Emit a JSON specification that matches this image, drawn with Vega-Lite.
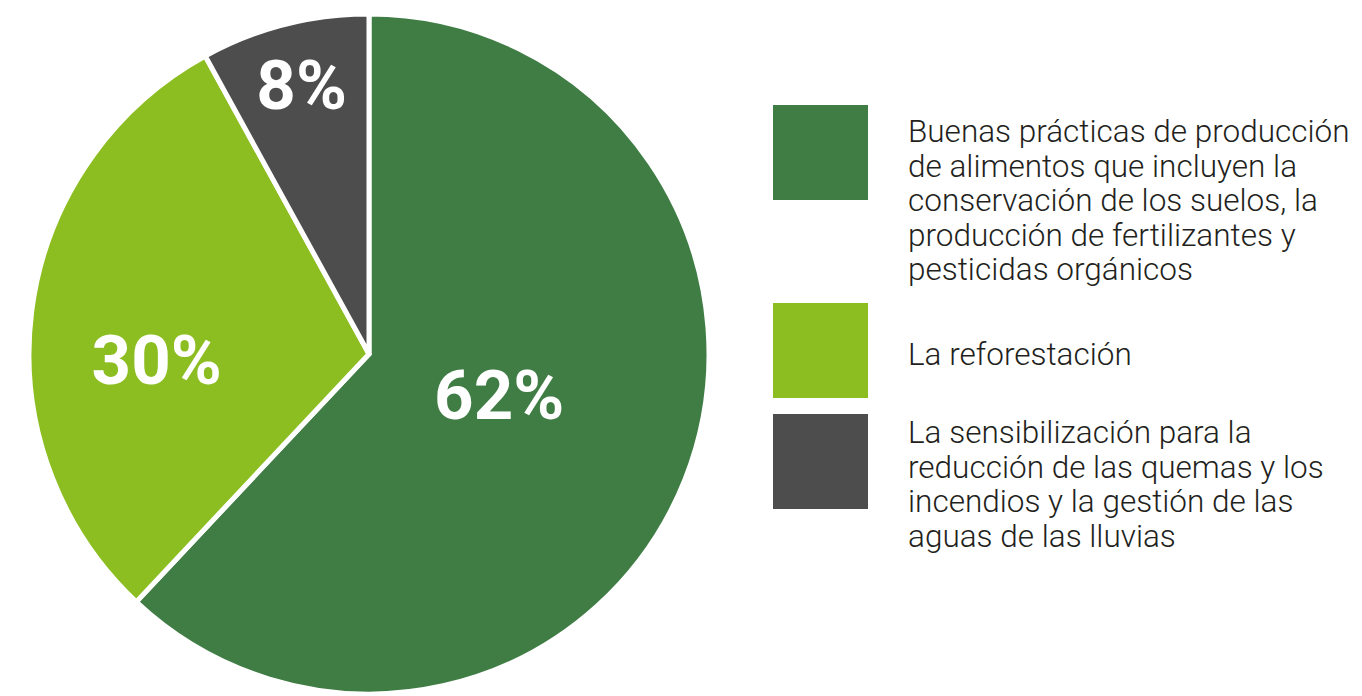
{
  "$schema": "https://vega.github.io/schema/vega-lite/v6.json",
  "width": 738,
  "height": 684,
  "autosize": {"type": "none"},
  "padding": {"left": 0, "top": 12, "right": 624, "bottom": 0},
  "background": "white",
  "config": {
    "view": {"stroke": null},
    "style": {"guide-label": {"lineHeight": 34.5, "dy": -10.5}}
  },
  "data": {
    "values": [
      {"categoria": "Buenas prácticas de producción de alimentos que incluyen la conservación de los suelos, la producción de fertilizantes y pesticidas orgánicos", "valor": 0.62},
      {"categoria": "La reforestación", "valor": 0.30},
      {"categoria": "La sensibilización para la reducción de las quemas y los incendios y la gestión de las aguas de las lluvias", "valor": 0.08}
    ]
  },
  "encoding": {
    "theta": {"field": "valor", "type": "quantitative", "stack": true},
    "order": {"field": "valor", "type": "quantitative", "sort": "descending"}
  },
  "layer": [
    {
      "mark": {"type": "arc", "outerRadius": 340, "stroke": "white", "strokeWidth": 5},
      "encoding": {
        "color": {
          "field": "categoria",
          "type": "nominal",
          "scale": {
            "domain": [
              "Buenas prácticas de producción de alimentos que incluyen la conservación de los suelos, la producción de fertilizantes y pesticidas orgánicos",
              "La reforestación",
              "La sensibilización para la reducción de las quemas y los incendios y la gestión de las aguas de las lluvias"
            ],
            "range": ["#3F7D45", "#8CBE21", "#4D4D4D"]
          },
          "legend": {
            "orient": "none",
            "direction": "vertical",
            "legendX": 773,
            "legendY": 93,
            "title": null,
            "padding": 0,
            "symbolType": "square",
            "symbolSize": 9025,
            "symbolStrokeWidth": 0,
            "symbolOpacity": 1,
            "labelFont": "Roboto",
            "labelFontSize": 31.5,
            "labelFontWeight": 300,
            "labelColor": "#231F20",
            "labelLimit": 0,
            "labelOffset": 40,
            "labelBaseline": {"expr": "datum.label == 'La reforestación' ? 'top' : indexof(datum.label, 'Buenas') == 0 ? 'alphabetic' : 'line-bottom'"},
            "rowPadding": 16,
            "labelExpr": "datum.label == 'La reforestación' ? 'La reforestación' : indexof(datum.label, 'Buenas') == 0 ? ['Buenas prácticas de producción', 'de alimentos que incluyen la', 'conservación de los suelos, la', 'producción de fertilizantes y', 'pesticidas orgánicos'] : ['La sensibilización para la', 'reducción de las quemas y los', 'incendios y la gestión de las', 'aguas de las lluvias']"
          }
        }
      }
    },
    {
      "mark": {
        "type": "text",
        "radius": {"expr": "datum.valor > 0.5 ? 140 : datum.valor > 0.2 ? 214 : 271"},
        "dy": {"expr": "datum.valor > 0.5 ? -8 : datum.valor > 0.2 ? 36 : -4"},
        "font": "Roboto",
        "fontSize": 69,
        "fontWeight": "bold",
        "fill": "white",
        "align": "center",
        "baseline": "middle"
      },
      "encoding": {
        "detail": {"field": "categoria", "type": "nominal"},
        "text": {"field": "valor", "type": "quantitative", "format": ".0%"}
      }
    }
  ]
}
